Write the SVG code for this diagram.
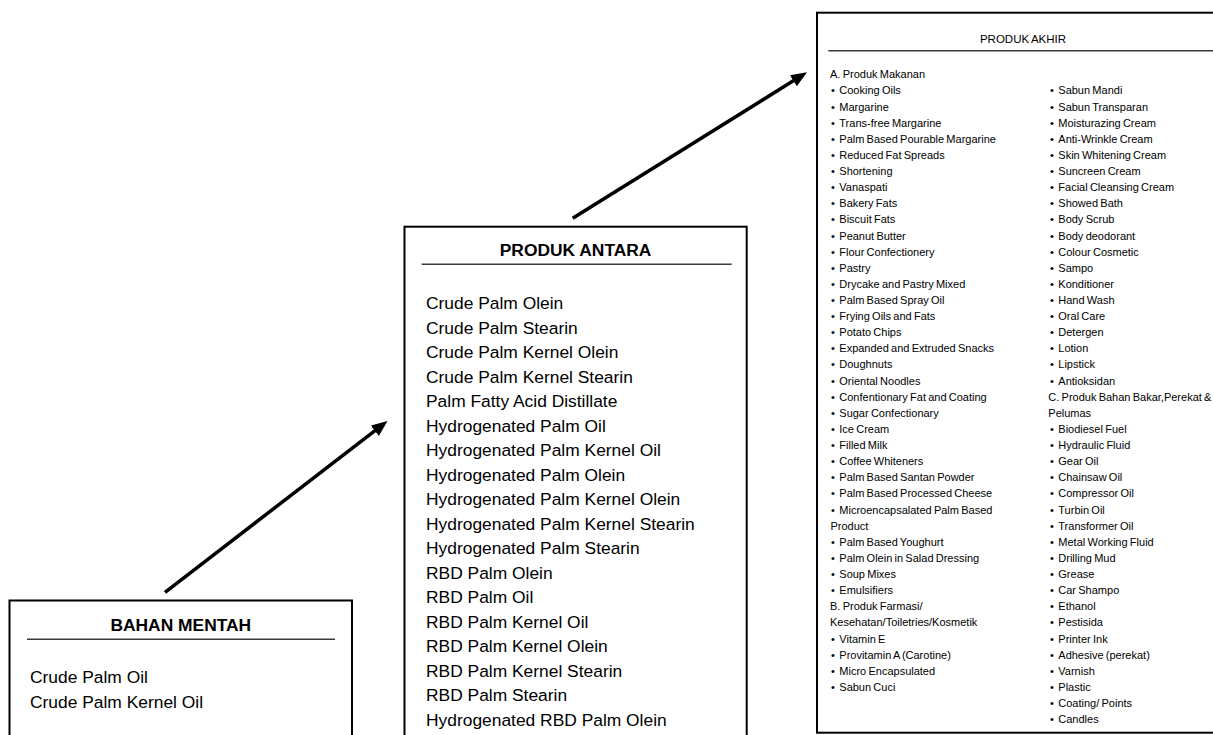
<svg xmlns="http://www.w3.org/2000/svg" width="1213" height="735" viewBox="0 0 1213 735">
<style>
.box{fill:#fff;stroke:#000;stroke-width:2}
.rule{stroke:#3a3a3a;stroke-width:1.4}
.t{font-family:"Liberation Sans",Arial,sans-serif;font-size:17.4px;fill:#000}
.h{font-weight:bold;text-anchor:middle}
.s{font-family:"Liberation Sans",Arial,sans-serif;font-size:11px;word-spacing:-0.8px;fill:#000}
.c{text-anchor:middle;font-size:11.5px}
.conn{stroke:#000;stroke-width:3.5;fill:none;marker-end:url(#ah)}
</style>
<defs>
<marker id="ah" markerUnits="userSpaceOnUse" markerWidth="18" markerHeight="14" refX="6" refY="6.5" orient="auto">
<path d="M0,0 L16,6.5 L0,13 z" fill="#000"/>
</marker>
</defs>
<rect width="1213" height="735" fill="#fff"/>
<g id="connectors">
<line class="conn" x1="165" y1="592.3" x2="379.6" y2="427.1"/>
<line class="conn" x1="572.7" y1="218.3" x2="798.5" y2="77.6"/>
</g>
<g id="bahan-mentah">
<rect class="box" x="9.5" y="600.5" width="342.5" height="150"/>
<text class="t h" x="180.8" y="631">BAHAN MENTAH</text>
<line class="rule" x1="27" y1="639.3" x2="335" y2="639.3"/>
<text class="t"><tspan x="30" y="683.3">Crude Palm Oil</tspan><tspan x="30" y="707.8">Crude Palm Kernel Oil</tspan></text>
</g>
<g id="produk-antara">
<rect class="box" x="404.5" y="226.7" width="342.2" height="530"/>
<text class="t h" x="575.6" y="256">PRODUK ANTARA</text>
<line class="rule" x1="421.7" y1="264.3" x2="731.7" y2="264.3"/>
<text class="t">
<tspan x="426" y="309.3">Crude Palm Olein</tspan>
<tspan x="426" y="333.8">Crude Palm Stearin</tspan>
<tspan x="426" y="358.3">Crude Palm Kernel Olein</tspan>
<tspan x="426" y="382.8">Crude Palm Kernel Stearin</tspan>
<tspan x="426" y="407.3">Palm Fatty Acid Distillate</tspan>
<tspan x="426" y="431.8">Hydrogenated Palm Oil</tspan>
<tspan x="426" y="456.3">Hydrogenated Palm Kernel Oil</tspan>
<tspan x="426" y="480.8">Hydrogenated Palm Olein</tspan>
<tspan x="426" y="505.3">Hydrogenated Palm Kernel Olein</tspan>
<tspan x="426" y="529.8">Hydrogenated Palm Kernel Stearin</tspan>
<tspan x="426" y="554.3">Hydrogenated Palm Stearin</tspan>
<tspan x="426" y="578.8">RBD Palm Olein</tspan>
<tspan x="426" y="603.3">RBD Palm Oil</tspan>
<tspan x="426" y="627.8">RBD Palm Kernel Oil</tspan>
<tspan x="426" y="652.3">RBD Palm Kernel Olein</tspan>
<tspan x="426" y="676.8">RBD Palm Kernel Stearin</tspan>
<tspan x="426" y="701.3">RBD Palm Stearin</tspan>
<tspan x="426" y="725.8">Hydrogenated RBD Palm Olein</tspan>
</text>
</g>
<g id="produk-akhir">
<rect class="box" x="817" y="12.7" width="412" height="720"/>
<text class="s c" x="1023" y="43.3">PRODUK AKHIR</text>
<line class="rule" x1="828.3" y1="50.7" x2="1229" y2="50.7"/>
<text class="s">
<tspan x="830" y="78.3">A. Produk Makanan</tspan>
<tspan x="831" y="94.42">•</tspan><tspan x="839.3">Cooking Oils</tspan>
<tspan x="831" y="110.54">•</tspan><tspan x="839.3">Margarine</tspan>
<tspan x="831" y="126.66">•</tspan><tspan x="839.3">Trans-free Margarine</tspan>
<tspan x="831" y="142.78">•</tspan><tspan x="839.3">Palm Based Pourable Margarine</tspan>
<tspan x="831" y="158.9">•</tspan><tspan x="839.3">Reduced Fat Spreads</tspan>
<tspan x="831" y="175.02">•</tspan><tspan x="839.3">Shortening</tspan>
<tspan x="831" y="191.14">•</tspan><tspan x="839.3">Vanaspati</tspan>
<tspan x="831" y="207.26">•</tspan><tspan x="839.3">Bakery Fats</tspan>
<tspan x="831" y="223.38">•</tspan><tspan x="839.3">Biscuit Fats</tspan>
<tspan x="831" y="239.5">•</tspan><tspan x="839.3">Peanut Butter</tspan>
<tspan x="831" y="255.62">•</tspan><tspan x="839.3">Flour Confectionery</tspan>
<tspan x="831" y="271.74">•</tspan><tspan x="839.3">Pastry</tspan>
<tspan x="831" y="287.86">•</tspan><tspan x="839.3">Drycake and Pastry Mixed</tspan>
<tspan x="831" y="303.98">•</tspan><tspan x="839.3">Palm Based Spray Oil</tspan>
<tspan x="831" y="320.1">•</tspan><tspan x="839.3">Frying Oils and Fats</tspan>
<tspan x="831" y="336.22">•</tspan><tspan x="839.3">Potato Chips</tspan>
<tspan x="831" y="352.34">•</tspan><tspan x="839.3">Expanded and Extruded Snacks</tspan>
<tspan x="831" y="368.46">•</tspan><tspan x="839.3">Doughnuts</tspan>
<tspan x="831" y="384.58">•</tspan><tspan x="839.3">Oriental Noodles</tspan>
<tspan x="831" y="400.7">•</tspan><tspan x="839.3">Confentionary Fat and Coating</tspan>
<tspan x="831" y="416.82">•</tspan><tspan x="839.3">Sugar Confectionary</tspan>
<tspan x="831" y="432.94">•</tspan><tspan x="839.3">Ice Cream</tspan>
<tspan x="831" y="449.06">•</tspan><tspan x="839.3">Filled Milk</tspan>
<tspan x="831" y="465.18">•</tspan><tspan x="839.3">Coffee Whiteners</tspan>
<tspan x="831" y="481.3">•</tspan><tspan x="839.3">Palm Based Santan Powder</tspan>
<tspan x="831" y="497.42">•</tspan><tspan x="839.3">Palm Based Processed Cheese</tspan>
<tspan x="831" y="513.54">•</tspan><tspan x="839.3">Microencapsalated Palm Based</tspan>
<tspan x="830.5" y="529.66">Product</tspan>
<tspan x="831" y="545.78">•</tspan><tspan x="839.3">Palm Based Youghurt</tspan>
<tspan x="831" y="561.9">•</tspan><tspan x="839.3">Palm Olein in Salad Dressing</tspan>
<tspan x="831" y="578.02">•</tspan><tspan x="839.3">Soup Mixes</tspan>
<tspan x="831" y="594.14">•</tspan><tspan x="839.3">Emulsifiers</tspan>
<tspan x="830" y="610.26">B. Produk Farmasi/</tspan>
<tspan x="830" y="626.38">Kesehatan/Toiletries/Kosmetik</tspan>
<tspan x="831" y="642.5">•</tspan><tspan x="839.3">Vitamin E</tspan>
<tspan x="831" y="658.62">•</tspan><tspan x="839.3">Provitamin A (Carotine)</tspan>
<tspan x="831" y="674.74">•</tspan><tspan x="839.3">Micro Encapsulated</tspan>
<tspan x="831" y="690.86">•</tspan><tspan x="839.3">Sabun Cuci</tspan>
</text>
<text class="s">
<tspan x="1050" y="94.42">•</tspan><tspan x="1058.3">Sabun Mandi</tspan>
<tspan x="1050" y="110.54">•</tspan><tspan x="1058.3">Sabun Transparan</tspan>
<tspan x="1050" y="126.66">•</tspan><tspan x="1058.3">Moisturazing Cream</tspan>
<tspan x="1050" y="142.78">•</tspan><tspan x="1058.3">Anti-Wrinkle Cream</tspan>
<tspan x="1050" y="158.9">•</tspan><tspan x="1058.3">Skin Whitening Cream</tspan>
<tspan x="1050" y="175.02">•</tspan><tspan x="1058.3">Suncreen Cream</tspan>
<tspan x="1050" y="191.14">•</tspan><tspan x="1058.3">Facial Cleansing Cream</tspan>
<tspan x="1050" y="207.26">•</tspan><tspan x="1058.3">Showed Bath</tspan>
<tspan x="1050" y="223.38">•</tspan><tspan x="1058.3">Body Scrub</tspan>
<tspan x="1050" y="239.5">•</tspan><tspan x="1058.3">Body deodorant</tspan>
<tspan x="1050" y="255.62">•</tspan><tspan x="1058.3">Colour Cosmetic</tspan>
<tspan x="1050" y="271.74">•</tspan><tspan x="1058.3">Sampo</tspan>
<tspan x="1050" y="287.86">•</tspan><tspan x="1058.3">Konditioner</tspan>
<tspan x="1050" y="303.98">•</tspan><tspan x="1058.3">Hand Wash</tspan>
<tspan x="1050" y="320.1">•</tspan><tspan x="1058.3">Oral Care</tspan>
<tspan x="1050" y="336.22">•</tspan><tspan x="1058.3">Detergen</tspan>
<tspan x="1050" y="352.34">•</tspan><tspan x="1058.3">Lotion</tspan>
<tspan x="1050" y="368.46">•</tspan><tspan x="1058.3">Lipstick</tspan>
<tspan x="1050" y="384.58">•</tspan><tspan x="1058.3">Antioksidan</tspan>
<tspan x="1048.3" y="400.7">C. Produk Bahan Bakar,Perekat &amp;</tspan>
<tspan x="1048.3" y="416.82">Pelumas</tspan>
<tspan x="1050" y="432.94">•</tspan><tspan x="1058.3">Biodiesel Fuel</tspan>
<tspan x="1050" y="449.06">•</tspan><tspan x="1058.3">Hydraulic Fluid</tspan>
<tspan x="1050" y="465.18">•</tspan><tspan x="1058.3">Gear Oil</tspan>
<tspan x="1050" y="481.3">•</tspan><tspan x="1058.3">Chainsaw Oil</tspan>
<tspan x="1050" y="497.42">•</tspan><tspan x="1058.3">Compressor Oil</tspan>
<tspan x="1050" y="513.54">•</tspan><tspan x="1058.3">Turbin Oil</tspan>
<tspan x="1050" y="529.66">•</tspan><tspan x="1058.3">Transformer Oil</tspan>
<tspan x="1050" y="545.78">•</tspan><tspan x="1058.3">Metal Working Fluid</tspan>
<tspan x="1050" y="561.9">•</tspan><tspan x="1058.3">Drilling Mud</tspan>
<tspan x="1050" y="578.02">•</tspan><tspan x="1058.3">Grease</tspan>
<tspan x="1050" y="594.14">•</tspan><tspan x="1058.3">Car Shampo</tspan>
<tspan x="1050" y="610.26">•</tspan><tspan x="1058.3">Ethanol</tspan>
<tspan x="1050" y="626.38">•</tspan><tspan x="1058.3">Pestisida</tspan>
<tspan x="1050" y="642.5">•</tspan><tspan x="1058.3">Printer Ink</tspan>
<tspan x="1050" y="658.62">•</tspan><tspan x="1058.3">Adhesive (perekat)</tspan>
<tspan x="1050" y="674.74">•</tspan><tspan x="1058.3">Varnish</tspan>
<tspan x="1050" y="690.86">•</tspan><tspan x="1058.3">Plastic</tspan>
<tspan x="1050" y="706.98">•</tspan><tspan x="1058.3">Coating/ Points</tspan>
<tspan x="1050" y="723.1">•</tspan><tspan x="1058.3">Candles</tspan>
</text>
</g>
</svg>
